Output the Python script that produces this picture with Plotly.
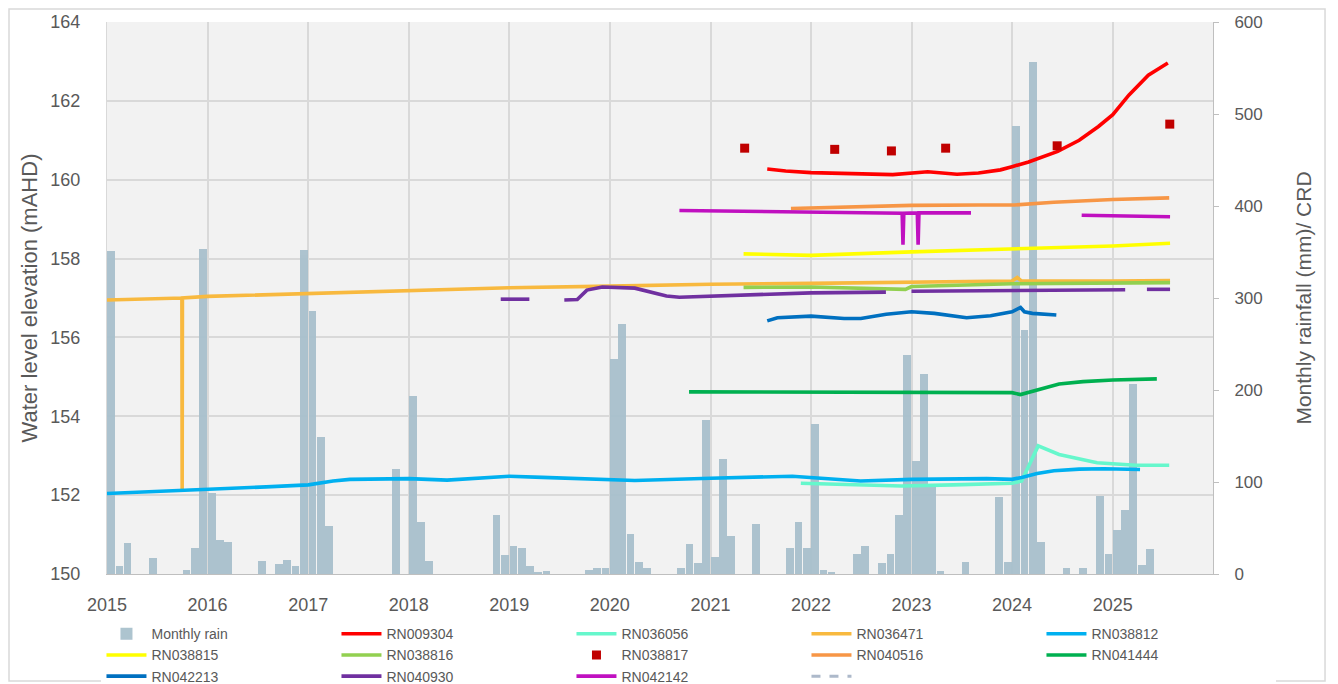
import pandas as pd
import plotly.graph_objects as go

# ---- monthly rainfall (mm), Jan..Dec per year ----
rain_2015 = [351, 9, 34, 0, 0, 17, 0, 0, 0, 4, 28, 353]
rain_2016 = [88, 37, 35, 0, 0, 0, 14, 0, 11, 15, 9, 352]
rain_2017 = [286, 149, 52, 0, 0, 0, 0, 0, 0, 0, 114, 0]
rain_2018 = [194, 57, 14, 0, 0, 0, 0, 0, 0, 0, 64, 21]
rain_2019 = [30, 28, 9, 2, 3, 0, 0, 0, 0, 4, 7, 7]
rain_2020 = [234, 272, 44, 13, 7, 0, 0, 0, 7, 33, 12, 167]
rain_2021 = [18, 125, 41, 0, 0, 54, 0, 0, 0, 28, 56, 28]
rain_2022 = [163, 4, 2, 0, 0, 22, 30, 0, 12, 22, 64, 238]
rain_2023 = [123, 217, 97, 3, 0, 0, 13, 0, 0, 0, 84, 13]
rain_2024 = [487, 265, 557, 35, 0, 0, 6, 0, 7, 0, 85, 22]
rain_2025 = [48, 70, 207, 10, 27, 0, 0]

rain = (rain_2015 + rain_2016 + rain_2017 + rain_2018 + rain_2019 + rain_2020
        + rain_2021 + rain_2022 + rain_2023 + rain_2024 + rain_2025)
months = pd.date_range('2015-01-01', periods=len(rain), freq='MS').strftime('%Y-%m-%d').tolist()

# ---- water levels (mAHD) ----
rn009304_x = ['2021-07-26', '2021-10-01', '2022-01-01', '2022-06-01', '2022-10-25', '2023-03-01',
              '2023-06-15', '2023-09-01', '2023-11-20', '2024-01-01', '2024-03-01', '2024-06-15',
              '2024-09-01', '2024-11-10', '2025-01-01', '2025-03-01', '2025-05-10', '2025-07-20']
rn009304_y = [160.27, 160.22, 160.18, 160.15, 160.13, 160.2, 160.14, 160.17, 160.25, 160.33, 160.45,
              160.72, 161.0, 161.35, 161.65, 162.15, 162.65, 162.96]

rn036056_x = ['2021-11-25', '2022-06-01', '2022-11-25', '2023-06-01', '2024-01-01', '2024-02-05',
              '2024-04-05', '2024-06-20', '2024-11-05', '2025-03-25', '2025-07-25']
rn036056_y = [152.3, 152.27, 152.23, 152.26, 152.3, 152.36, 153.25, 153.03, 152.82, 152.76, 152.76]

rn036471_x = ['2015-01-01', '2015-09-30', '2015-10-01', '2015-10-02', '2016-01-01', '2017-01-01',
              '2018-01-01', '2019-01-01', '2020-01-01', '2021-01-01', '2022-01-01', '2023-01-01',
              '2024-01-01', '2024-01-20', '2024-02-05', '2025-01-01', '2025-07-28']
rn036471_y = [156.95, 157.0, 152.15, 157.0, 157.04, 157.12, 157.18, 157.26, 157.3, 157.35, 157.37,
              157.4, 157.43, 157.52, 157.43, 157.43, 157.44]

rn038812_x = ['2015-01-01', '2015-06-01', '2016-01-01', '2016-08-01', '2017-01-01', '2017-04-01',
              '2017-06-01', '2018-01-01', '2018-05-20', '2019-01-01', '2019-05-01', '2020-01-01',
              '2020-04-01', '2021-01-01', '2021-10-25', '2022-06-30', '2023-01-01', '2023-10-01',
              '2024-01-01', '2024-02-05', '2024-04-01', '2024-06-01', '2024-09-01', '2024-12-01',
              '2025-04-10']
rn038812_y = [152.04, 152.08, 152.14, 152.21, 152.26, 152.36, 152.4, 152.42, 152.38, 152.48, 152.45,
              152.4, 152.37, 152.43, 152.48, 152.36, 152.4, 152.42, 152.4, 152.45, 152.55, 152.62,
              152.66, 152.67, 152.65]

rn038815_x = ['2021-05-01', '2022-01-01', '2023-01-01', '2024-01-10', '2025-01-01', '2025-07-28']
rn038815_y = [158.12, 158.08, 158.17, 158.25, 158.32, 158.39]

rn038816_x = ['2021-05-01', '2022-01-01', '2022-12-10', '2023-01-01', '2024-01-01', '2025-01-01', '2025-07-28']
rn038816_y = [157.27, 157.28, 157.22, 157.29, 157.36, 157.38, 157.39]

rn038817_x = ['2021-05-05', '2022-03-28', '2022-10-20', '2023-05-05', '2024-06-13', '2025-07-27']
rn038817_y = [160.8, 160.77, 160.73, 160.8, 160.86, 161.41]

rn040516_x = ['2021-10-20', '2022-06-01', '2023-01-01', '2023-09-01', '2024-01-10', '2024-06-01',
              '2025-01-01', '2025-07-25']
rn040516_y = [159.27, 159.31, 159.35, 159.36, 159.36, 159.43, 159.5, 159.54]

rn041444_x = ['2020-10-15', '2022-07-01', '2023-03-01', '2024-01-01', '2024-02-01', '2024-04-01',
              '2024-06-20', '2024-09-15', '2025-01-01', '2025-06-10']
rn041444_y = [154.62, 154.61, 154.59, 154.6, 154.55, 154.66, 154.82, 154.88, 154.92, 154.95]

rn042213_x = ['2021-07-26', '2021-09-01', '2022-01-01', '2022-05-01', '2022-07-01', '2022-10-01',
              '2023-01-01', '2023-03-25', '2023-07-20', '2023-10-15', '2024-01-01', '2024-02-01',
              '2024-02-15', '2024-03-15', '2024-06-10']
rn042213_y = [156.42, 156.5, 156.54, 156.48, 156.48, 156.59, 156.65, 156.61, 156.5, 156.55, 156.65,
              156.76, 156.65, 156.61, 156.57]

rn040930_x = ['2018-12-01', '2019-03-15', None, '2019-07-20', '2019-09-05', '2019-10-10', '2019-12-05',
              '2020-04-01', '2020-06-01', '2020-07-25', '2020-09-10', '2021-01-01', '2021-08-01',
              '2022-01-01', '2022-09-30', None, '2023-01-01', '2024-01-01', '2025-02-15', None,
              '2025-05-05', '2025-07-28']
rn040930_y = [156.97, 156.97, None, 156.95, 156.96, 157.2, 157.28, 157.25, 157.15, 157.05, 157.02,
              157.05, 157.11, 157.13, 157.15, None, 157.17, 157.19, 157.21, None, 157.22, 157.22]

rn042142_x = ['2020-09-10', '2021-06-01', '2022-01-15', '2022-11-28', '2022-12-01', '2022-12-04',
              '2023-01-22', '2023-01-25', '2023-01-28', '2023-08-05', None, '2024-09-10', '2025-02-01',
              '2025-07-28']
rn042142_y = [159.22, 159.2, 159.17, 159.15, 158.35, 159.15, 159.16, 158.35, 159.16, 159.16, None,
              159.1, 159.08, 159.06]

wells = [
    ('RN009304', rn009304_x, rn009304_y, '#FF0000'),
    ('RN036056', rn036056_x, rn036056_y, '#66F7CC'),
    ('RN036471', rn036471_x, rn036471_y, '#F8B93F'),
    ('RN038812', rn038812_x, rn038812_y, '#00B0F0'),
    ('RN038815', rn038815_x, rn038815_y, '#FFFF00'),
    ('RN038816', rn038816_x, rn038816_y, '#92D050'),
    ('RN038817', rn038817_x, rn038817_y, '#C00000'),
    ('RN040516', rn040516_x, rn040516_y, '#F79646'),
    ('RN041444', rn041444_x, rn041444_y, '#00B050'),
    ('RN042213', rn042213_x, rn042213_y, '#0070C0'),
    ('RN040930', rn040930_x, rn040930_y, '#7030A0'),
    ('RN042142', rn042142_x, rn042142_y, '#C010C0'),
]

grey_text = '#595959'
narrow = 'Liberation Sans Narrow, Arial Narrow, sans-serif'
fig = go.Figure()

# rain bars on the base axis (right side) so that the lines draw on top
fig.add_trace(go.Bar(x=months, y=rain, name='Monthly rain', yaxis='y',
                     xperiod='M1', xperiodalignment='middle', width=28 * 86400000,
                     marker=dict(color='#A7BFCC', line=dict(width=0)), opacity=0.92))

for name, xs, ys, col in wells:
    if name == 'RN038817':
        fig.add_trace(go.Scatter(x=xs, y=ys, name=name, yaxis='y2', mode='markers',
                                 marker=dict(symbol='square', size=9, color=col)))
    else:
        fig.add_trace(go.Scatter(x=xs, y=ys, name=name, yaxis='y2', mode='lines',
                                 line=dict(color=col, width=3.6), connectgaps=False))

# unlabeled dashed legend entry
fig.add_trace(go.Scatter(x=[None], y=[None], name=' ', yaxis='y2', mode='lines',
                         line=dict(color='#ADB9CA', width=3, dash='dash')))

# page body has an 8px margin, so the figure is sized to fill the rest of the window
fig.update_layout(
    width=1330, height=676,
    margin=dict(l=99, r=125, t=14, b=110, autoexpand=False),
    paper_bgcolor='white', plot_bgcolor='#F2F2F2',
    font=dict(family='Liberation Sans, Arial, sans-serif', color=grey_text),
    barmode='overlay', bargap=0,
    xaxis=dict(type='date', range=['2015-01-01', '2025-12-31'], dtick='M12', tick0='2015-01-01',
               tickformat='%Y', showgrid=True, gridcolor='#D9D9D9', gridwidth=1.5,
               showline=True, linecolor='#BFBFBF', ticks='', ticklabelstandoff=14,
               tickfont=dict(size=18, family=narrow)),
    yaxis=dict(side='right', range=[0, 600], dtick=100, showgrid=False, zeroline=False,
               showline=True, linecolor='#BFBFBF', ticks='outside', ticklen=5, tickcolor='#BFBFBF',
               ticklabelstandoff=12, tickfont=dict(size=17),
               title=dict(text='Monthly rainfall (mm)/ CRD', font=dict(size=21), standoff=34)),
    yaxis2=dict(overlaying='y', side='left', range=[150, 164], dtick=2, showgrid=True,
                gridcolor='#D9D9D9', gridwidth=1.5, zeroline=False, showline=True, linecolor='#D9D9D9',
                ticklabelstandoff=22, tickfont=dict(size=18),
                title=dict(text='Water level elevation (mAHD)', font=dict(size=22), standoff=6)),
    legend=dict(orientation='h', x=-0.005, xanchor='left', y=-0.08, yanchor='top',
                entrywidth=180, entrywidthmode='pixels', tracegroupgap=0, itemwidth=40,
                font=dict(size=14, family=narrow, color=grey_text)),
    showlegend=True,
)

# thin border around the whole chart
fig.add_shape(type='rect', xref='paper', yref='paper', x0=-0.0886, x1=1.1013, y0=-0.1938, y1=1.0236,
              line=dict(color='#D9D9D9', width=1.5), fillcolor='rgba(0,0,0,0)', layer='below')

fig.write_html('out.html')
